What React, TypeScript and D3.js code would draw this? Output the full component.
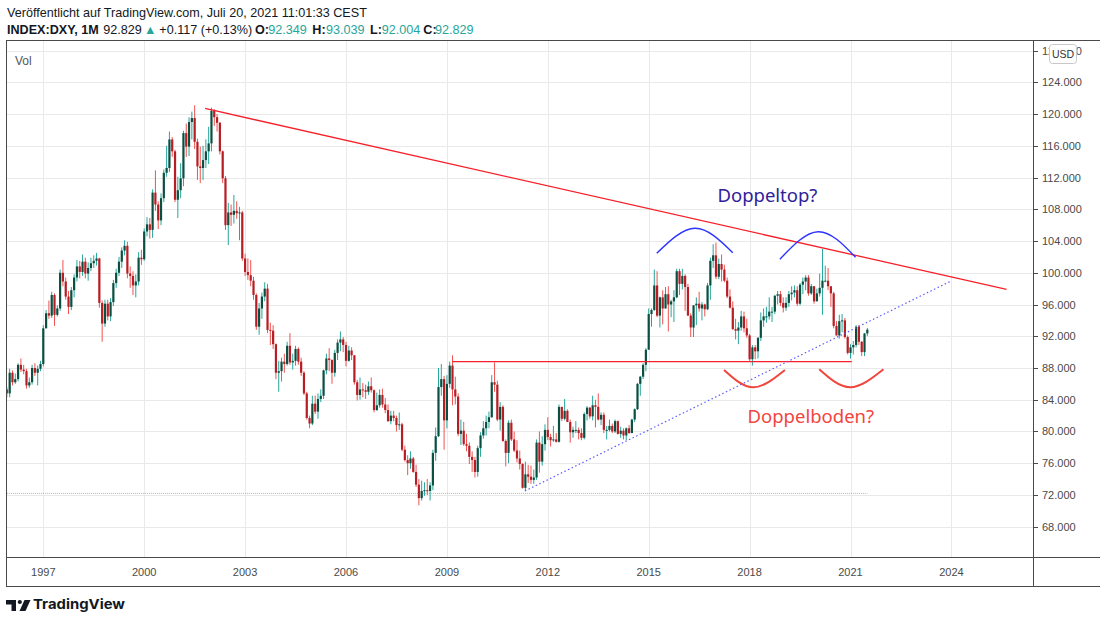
import React from 'react';
import * as d3 from 'd3';

// ---------- DATA (monthly DXY candles, first candle = Dec 1995) ----------
const firstMonth = 1995 + 11 / 12;
const firstOpen = 85.3;

const closes = [
  84.8,
  87.4, 86.2, 86.6, 88.4, 87.8, 87.6, 85.8, 86.2, 88.0, 87.4, 87.9, 88.5,
  93.0, 94.9, 94.6, 97.2, 94.7, 95.5, 100.0, 98.9, 97.0, 95.7, 97.8, 99.4,
  100.8, 100.1, 101.4, 99.9, 100.6, 101.2, 101.5, 101.8, 96.2, 93.6, 96.1, 94.5,
  96.3, 98.7, 100.0, 101.4, 102.8, 103.4, 99.9, 99.6, 98.4, 98.9, 101.9, 101.7,
  105.2, 106.1, 105.4, 110.1, 108.6, 106.6, 109.4, 112.6, 113.2, 116.8, 115.3, 109.2,
  110.4, 111.9, 117.6, 115.9, 119.0, 119.5, 116.5, 113.4, 113.2, 114.2, 115.3, 116.3,
  120.4, 119.6, 118.9, 115.3, 111.9, 106.0, 107.6, 107.3, 107.8, 107.5, 107.6, 101.8,
  100.1, 99.7, 99.0, 97.2, 93.2, 95.5, 97.0, 98.0, 92.8, 92.7, 91.0, 87.4,
  87.6, 88.8, 88.5, 90.8, 88.7, 88.9, 90.4, 88.8, 87.4, 84.8, 81.7, 81.0,
  83.5, 82.5, 84.1, 84.5, 87.7, 89.2, 89.0, 87.4, 89.9, 91.2, 91.6, 90.9,
  88.9, 90.2, 89.6, 86.2, 84.6, 85.3, 85.2, 85.0, 85.7, 85.2, 82.7, 83.3,
  84.6, 83.4, 82.7, 81.3, 82.0, 81.7, 80.8, 80.9, 77.7, 76.4, 76.0, 76.6,
  74.9, 73.3, 71.6, 72.5, 72.6, 72.5, 73.2, 77.3, 79.4, 85.6, 86.6, 81.4,
  86.0, 88.3, 85.3, 84.4, 79.7, 80.1, 78.4, 78.2, 76.8, 76.4, 74.9, 77.9,
  79.5, 80.4, 81.2, 81.8, 86.2, 85.9, 81.5, 83.1, 78.8, 77.3, 81.1, 79.0,
  77.6, 76.6, 75.9, 72.9, 74.6, 74.3, 73.9, 74.2, 78.6, 76.2, 78.4, 80.2,
  79.3, 78.9, 79.0, 78.7, 83.1, 81.6, 82.6, 81.2, 79.9, 80.2, 80.2, 79.8,
  79.2, 82.2, 83.0, 81.9, 83.3, 83.1, 81.5, 82.1, 80.2, 80.2, 80.7, 80.0,
  81.3, 79.7, 80.1, 79.5, 80.4, 79.8, 81.5, 82.8, 86.0, 86.9, 88.4, 90.3,
  94.8, 95.3, 98.4, 94.6, 96.9, 95.5, 97.3, 96.0, 96.4, 96.9, 100.2, 98.6,
  99.6, 98.2, 94.6, 93.1, 95.9, 96.1, 95.5, 96.0, 95.4, 98.4, 101.5, 102.2,
  99.5, 101.1, 100.4, 99.0, 97.0, 95.6, 92.9, 92.7, 93.1, 94.5, 93.0, 92.1,
  89.1, 90.6, 90.1, 91.8, 94.0, 94.5, 94.5, 95.1, 95.1, 97.1, 97.3, 96.2,
  95.6, 96.2, 97.3, 97.5, 97.8, 96.1, 98.5, 98.9, 99.4, 97.4, 98.3, 96.4,
  97.4, 98.1, 99.0, 99.0, 98.3, 97.4, 93.3, 92.1, 93.9, 94.0, 91.9, 89.9,
  90.6, 90.9, 93.2, 91.3, 90.0, 92.349, 92.829,
];

const highs = [
  85.6,
  87.9, 87.7, 87.3, 88.6, 89.2, 88.4, 87.9, 86.8, 88.4, 88.6, 88.3, 88.9,
  93.4, 95.3, 96.5, 97.6, 97.4, 95.9, 100.4, 101.6, 99.4, 97.7, 98.2, 99.8,
  101.6, 101.5, 102.3, 101.9, 101.3, 101.9, 102.2, 102.5, 101.9, 96.5, 96.6, 96.6,
  96.8, 99.1, 100.5, 102.0, 103.2, 104.1, 103.9, 100.8, 100.2, 99.8, 102.6, 102.9,
  105.6, 107.0, 106.9, 110.5, 112.9, 109.0, 110.0, 113.0, 116.0, 117.8, 117.1, 115.5,
  112.1, 113.8, 117.9, 118.8, 119.6, 120.3, 121.1, 116.9, 115.9, 116.0, 116.8, 118.4,
  120.8, 120.6, 120.0, 119.0, 115.4, 112.2, 108.8, 108.6, 109.8, 109.0, 108.3, 107.8,
  102.4, 101.8, 101.6, 99.5, 97.4, 96.2, 97.5, 98.8, 98.6, 93.7, 93.4, 91.1,
  88.9, 89.3, 89.8, 91.3, 92.4, 89.8, 90.8, 90.6, 89.3, 87.6, 85.0, 82.0,
  84.5, 84.5, 84.8, 85.3, 87.8, 89.8, 90.5, 89.1, 90.3, 91.6, 92.6, 91.9,
  91.3, 90.8, 90.6, 89.6, 86.5, 86.8, 86.1, 85.9, 86.3, 86.8, 85.3, 84.9,
  85.3, 85.4, 84.2, 83.4, 82.6, 82.6, 82.0, 82.4, 81.1, 78.2, 77.0, 77.5,
  76.8, 75.8, 74.0, 73.8, 73.6, 74.0, 73.6, 77.7, 80.5, 88.0, 88.5, 87.0,
  87.1, 88.8, 89.6, 86.9, 84.8, 81.5, 81.2, 79.7, 78.6, 77.5, 76.8, 78.2,
  79.9, 81.3, 82.0, 82.5, 87.1, 88.7, 86.4, 83.7, 83.3, 79.0, 81.4, 81.5,
  80.0, 78.9, 77.6, 76.0, 76.2, 75.8, 75.7, 75.2, 79.0, 80.0, 79.4, 80.9,
  81.8, 79.7, 80.7, 79.8, 83.4, 83.1, 84.1, 82.8, 81.5, 80.6, 81.3, 80.5,
  80.4, 82.4, 83.2, 83.1, 84.5, 84.0, 84.8, 82.4, 82.4, 80.7, 81.5, 81.0,
  81.5, 81.4, 80.6, 80.4, 80.5, 80.8, 81.6, 82.9, 86.1, 87.0, 88.6, 90.5,
  95.5, 95.5, 100.4, 100.2, 97.0, 97.8, 98.2, 98.3, 96.6, 97.8, 100.5, 100.5,
  100.5, 99.8, 98.6, 94.9, 95.9, 96.9, 97.6, 96.3, 96.1, 98.7, 101.9, 103.6,
  103.8, 101.8, 102.3, 101.0, 99.4, 97.9, 96.4, 94.2, 93.8, 95.2, 95.1, 94.2,
  92.3, 90.9, 90.9, 91.9, 95.0, 95.5, 95.7, 96.9, 95.7, 97.2, 97.7, 97.7,
  96.9, 96.9, 97.7, 98.3, 98.4, 98.3, 98.7, 99.4, 99.7, 99.7, 98.6, 98.3,
  98.0, 99.9, 103.0, 100.9, 100.6, 98.3, 97.6, 93.9, 94.7, 94.8, 94.3, 92.1,
  91.0, 91.4, 93.4, 93.4, 91.4, 92.4, 93.039,
];

const lows = [
  84.3,
  84.3, 85.8, 86.0, 86.3, 87.5, 87.2, 85.4, 85.5, 85.9, 87.0, 85.8, 87.6,
  88.2, 93.0, 94.2, 94.3, 93.3, 94.5, 95.2, 98.3, 96.6, 94.8, 95.3, 96.9,
  98.9, 99.3, 99.6, 99.3, 99.0, 100.2, 100.6, 100.9, 95.6, 91.3, 93.2, 94.0,
  93.9, 95.8, 98.1, 99.6, 100.6, 102.2, 99.3, 98.1, 97.2, 96.9, 98.4, 101.0,
  101.5, 104.6, 104.3, 104.4, 107.8, 105.5, 106.0, 108.9, 112.1, 112.7, 114.6, 108.9,
  106.9, 109.4, 110.9, 114.6, 114.7, 116.8, 115.6, 111.7, 111.3, 111.7, 113.2, 113.7,
  115.3, 118.5, 117.8, 114.9, 111.3, 105.4, 103.5, 105.9, 106.2, 106.8, 104.1, 101.5,
  99.6, 99.1, 98.3, 96.6, 92.8, 92.2, 94.2, 96.4, 92.4, 90.9, 90.4, 86.6,
  85.0, 86.3, 87.4, 88.3, 88.4, 87.8, 88.3, 88.4, 87.0, 84.6, 81.5, 80.4,
  80.8, 82.2, 81.6, 83.7, 84.1, 87.2, 87.6, 86.0, 86.9, 89.0, 90.1, 90.0,
  88.2, 88.8, 89.0, 85.9, 83.9, 84.0, 84.3, 84.1, 84.6, 84.9, 82.4, 82.6,
  83.0, 83.0, 82.3, 81.2, 80.9, 81.3, 80.0, 80.2, 77.5, 76.2, 74.5, 75.3,
  74.8, 73.0, 70.7, 71.3, 71.9, 72.0, 71.3, 72.6, 76.3, 79.3, 84.5, 77.7,
  80.4, 85.5, 83.3, 83.4, 79.4, 78.3, 78.2, 77.5, 75.9, 74.9, 74.2, 74.3,
  76.8, 79.1, 79.5, 80.4, 81.7, 85.0, 81.3, 80.1, 78.7, 75.6, 76.0, 78.8,
  77.4, 76.1, 75.2, 72.8, 72.5, 73.5, 73.4, 73.4, 73.9, 74.8, 75.7, 77.6,
  78.9, 78.1, 78.7, 78.6, 78.6, 81.3, 81.4, 81.2, 78.6, 79.2, 79.8, 79.0,
  78.9, 79.0, 81.4, 81.6, 81.4, 80.5, 81.4, 80.8, 79.8, 79.0, 80.0, 79.8,
  79.8, 79.6, 79.2, 79.0, 78.9, 79.7, 79.8, 81.2, 82.7, 84.5, 86.6, 87.6,
  90.3, 93.2, 95.2, 94.4, 93.1, 93.5, 95.5, 92.6, 94.4, 93.8, 96.8, 97.2,
  97.9, 95.2, 94.6, 91.9, 91.9, 93.4, 95.1, 94.0, 94.5, 95.3, 96.6, 100.6,
  99.2, 99.2, 98.9, 98.8, 96.8, 95.5, 92.8, 91.6, 91.0, 92.7, 92.5, 91.8,
  88.9, 88.3, 89.1, 89.2, 91.4, 93.2, 93.7, 94.1, 93.8, 94.8, 96.0, 95.8,
  95.0, 95.2, 95.7, 96.5, 96.9, 95.8, 95.9, 97.3, 97.8, 97.1, 97.2, 96.1,
  96.4, 97.0, 94.7, 98.8, 97.8, 95.7, 93.0, 92.1, 91.7, 92.5, 91.7, 89.7,
  89.2, 89.7, 90.6, 90.9, 89.5, 89.5, 92.004,
];

const yTicks = [68, 72, 76, 80, 84, 88, 92, 96, 100, 104, 108, 112, 116, 120, 124, 128];
const xTickYears = [1997, 2000, 2003, 2006, 2009, 2012, 2015, 2018, 2021, 2024];

// drawings [year, value]
const resistanceLine = [[2001.81, 120.7], [2025.64, 97.9]];
const supportLine = [[2011.32, 72.5], [2023.96, 98.9]];
const neckLine = [[2009.17, 88.8], [2021.04, 88.8]];
const topArcs = [
  [[2015.24, 102.45], [2016.38, 105.6], [2017.5, 102.53]],
  [[2018.9, 101.7], [2020.04, 105.17], [2021.15, 101.95]],
];
const bottomArcs = [
  [[2017.24, 87.75], [2018.11, 85.57], [2019.05, 87.75]],
  [[2020.07, 87.84], [2020.99, 85.57], [2021.98, 87.84]],
];
const topLabel = { text: 'Doppeltop?', year: 2018.53, value: 108.9 };
const bottomLabel = { text: 'Doppelboden?', year: 2019.82, value: 81.03 };
const baseDotValue = 72.2;

// ---------- LAYOUT ----------
const W = 1100;
const H = 623;
const plotL = 7;
const plotR = 1033;
const plotT = 40;
const plotB = 558;
const axisB = 586;

const x = d3.scaleLinear().domain([1997, 2021]).range([43.3, 850.5]);
const y = d3.scaleLinear().domain([68, 124]).range([526.7, 82.3]);

const UP_BODY = '#0b4f41';
const UP_WICK = '#26a69a';
const DN_BODY = '#b71d25';
const DN_WICK = '#ef5350';
const FONT = '"Liberation Sans", Arial, sans-serif';

type Candle = { t: number; o: number; h: number; l: number; c: number };

const candles: Candle[] = closes.map((c, i) => {
  const o = i === 0 ? firstOpen : closes[i - 1];
  return {
    t: firstMonth + i / 12,
    o,
    c,
    h: Math.max(highs[i], o, c),
    l: Math.min(lows[i], o, c),
  };
});

const lineGen = d3
  .line<number[]>()
  .x((d) => x(d[0]))
  .y((d) => y(d[1]));
const arcGen = d3
  .line<number[]>()
  .x((d) => x(d[0]))
  .y((d) => y(d[1]))
  .curve(d3.curveNatural);

export default function App() {
  const bodyW = 2.2;
  const lastT = candles[candles.length - 1].t;
  return (
    <svg
      width={W}
      height={H}
      style={{ position: 'absolute', left: 0, top: 0, background: '#fff' }}
      xmlns="http://www.w3.org/2000/svg"
    >
      <rect x={0} y={0} width={W} height={H} fill="#ffffff" />
      <defs>
        <clipPath id="plotClip">
          <rect x={plotL} y={plotT + 1} width={plotR - plotL} height={plotB - plotT - 1} />
        </clipPath>
      </defs>

      {/* header */}
      <text x={7} y={17} fontFamily={FONT} fontSize={12.6} fill="#131722">
        Veröffentlicht auf TradingView.com, Juli 20, 2021 11:01:33 CEST
      </text>
      <g fontFamily={FONT} fontSize={12.6}>
        <text x={7} y={34} fontWeight="bold" fill="#131722">INDEX:DXY, 1M</text>
        <text x={103.3} y={34} fill="#131722">92.829</text>
        <text x={144} y={34} fill="#26a69a">▲</text>
        <text x={159.3} y={34} fill="#131722">+0.117 (+0.13%)</text>
        <text x={255} y={34} fontWeight="bold" fill="#131722">O:</text>
        <text x={268.3} y={34} fill="#26a69a">92.349</text>
        <text x={312.3} y={34} fontWeight="bold" fill="#131722">H:</text>
        <text x={326} y={34} fill="#26a69a">93.039</text>
        <text x={370} y={34} fontWeight="bold" fill="#131722">L:</text>
        <text x={381.7} y={34} fill="#26a69a">92.004</text>
        <text x={423.3} y={34} fontWeight="bold" fill="#131722">C:</text>
        <text x={435} y={34} fill="#26a69a">92.829</text>
      </g>

      {/* grid */}
      <g stroke="#e9e9e9" strokeWidth={1}>
        {yTicks.map((v) => (
          <line key={'gy' + v} x1={plotL} x2={plotR} y1={Math.round(y(v)) + 0.5} y2={Math.round(y(v)) + 0.5} />
        ))}
        {xTickYears.map((yr) => (
          <line key={'gx' + yr} x1={Math.round(x(yr)) + 0.5} x2={Math.round(x(yr)) + 0.5} y1={plotT} y2={plotB} />
        ))}
      </g>

      <text x={15} y={65} fontFamily={FONT} fontSize={12} fill="#555">Vol</text>

      <g clipPath="url(#plotClip)">
        {/* dotted base line */}
        <line x1={x(firstMonth)} x2={x(lastT)} y1={y(baseDotValue)} y2={y(baseDotValue)} stroke="#ef9a9a" strokeWidth={1} strokeDasharray="1 3" />
        <line x1={x(firstMonth) + 2} x2={x(lastT)} y1={y(baseDotValue)} y2={y(baseDotValue)} stroke="#80cbc4" strokeWidth={1} strokeDasharray="1 3" />

        {/* candles */}
        {candles.map((d, i) => {
          const up = d.c >= d.o;
          const cx = x(d.t);
          const top = y(Math.max(d.o, d.c));
          const bot = y(Math.min(d.o, d.c));
          return (
            <g key={i}>
              <line x1={cx} x2={cx} y1={y(d.h)} y2={y(d.l)} stroke={up ? UP_WICK : DN_WICK} strokeWidth={1} />
              <rect x={cx - bodyW / 2} y={top} width={bodyW} height={Math.max(1, bot - top)} fill={up ? UP_BODY : DN_BODY} />
            </g>
          );
        })}

        {/* drawings */}
        <path d={lineGen(resistanceLine) || ''} stroke="#f7202a" strokeWidth={1.3} fill="none" />
        <path d={lineGen(neckLine) || ''} stroke="#f7202a" strokeWidth={1.3} fill="none" />
        <path d={lineGen(supportLine) || ''} stroke="#5b5bff" strokeWidth={1.2} strokeDasharray="1.5 2.5" fill="none" />
        {topArcs.map((a, i) => (
          <path key={'ta' + i} d={arcGen(a) || ''} stroke="#2d34ff" strokeWidth={1.4} fill="none" />
        ))}
        {bottomArcs.map((a, i) => (
          <path key={'ba' + i} d={arcGen(a) || ''} stroke="#f2453d" strokeWidth={2} fill="none" />
        ))}
        <text x={x(topLabel.year)} y={y(topLabel.value)} textAnchor="middle" fontFamily='"Noto Sans", sans-serif' fontSize={18.5} fill="#30209a">
          {topLabel.text}
        </text>
        <text x={x(bottomLabel.year)} y={y(bottomLabel.value)} textAnchor="middle" fontFamily='"Noto Sans", sans-serif' fontSize={18.5} fill="#f2453d">
          {bottomLabel.text}
        </text>
      </g>

      {/* frame */}
      <g stroke="#4a4a4a" strokeWidth={1} fill="none">
        <line x1={plotL - 0.5} x2={W} y1={plotT + 0.5} y2={plotT + 0.5} />
        <line x1={plotL - 0.5} x2={plotL - 0.5} y1={plotT} y2={axisB + 1} />
        <line x1={plotL - 0.5} x2={W} y1={plotB - 0.5} y2={plotB - 0.5} />
        <line x1={plotL - 0.5} x2={W} y1={axisB + 0.5} y2={axisB + 0.5} />
        <line x1={plotR + 0.5} x2={plotR + 0.5} y1={plotT} y2={axisB + 1} />
      </g>

      {/* right axis */}
      <g fontFamily={FONT} fontSize={11} fill="#4a4a4a">
        {yTicks.map((v) => (
          <g key={'yt' + v}>
            <line x1={plotR + 1} x2={plotR + 5} y1={Math.round(y(v)) + 0.5} y2={Math.round(y(v)) + 0.5} stroke="#4a4a4a" />
            <text x={1042} y={y(v) + 4}>{v.toFixed(3)}</text>
          </g>
        ))}
      </g>
      <rect x={1049.5} y={44.5} width={27} height={19} rx={3} fill="#fff" stroke="#c8c8c8" />
      <text x={1063} y={58} textAnchor="middle" fontFamily={FONT} fontSize={10.5} fill="#333">USD</text>

      {/* bottom axis */}
      <g fontFamily={FONT} fontSize={11} fill="#4a4a4a">
        {xTickYears.map((yr) => (
          <text key={'xt' + yr} x={x(yr)} y={576} textAnchor="middle">{yr}</text>
        ))}
      </g>

      {/* logo */}
      <g fill="#131722">
        <path d="M6,600 H16 V611 H11.5 V604.5 H6 Z" />
        <circle cx={19.8} cy={602} r={2.1} />
        <path d="M24.5,600 H30.5 L25.5,611 H19.5 Z" />
        <text x={33} y={609} fontFamily='Inter, "Noto Sans", sans-serif' fontWeight="bold" fontSize={13.5} textLength={92} lengthAdjust="spacingAndGlyphs">
          TradingView
        </text>
      </g>
    </svg>
  );
}
